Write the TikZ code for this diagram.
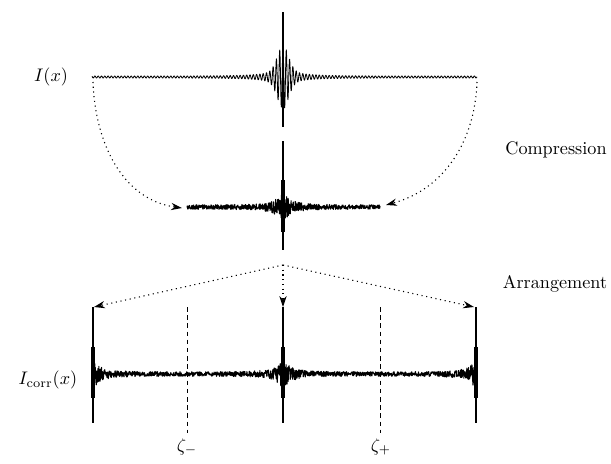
\documentclass[tikz,border=0pt]{standalone}
\usetikzlibrary{arrows.meta,calc}
\tikzset{
    signal/.style={line width=0.6pt, line join=round},
    spike/.style={line width=1.1pt},
    spikecore/.style={line width=2.2pt},
    flow/.style={-{Stealth[length=6pt,width=4pt]}, dotted, line width=0.6pt},
    guide/.style={dash pattern=on 2.5pt off 2pt, line width=0.45pt},
    label/.style={font=\normalsize}
}

\begin{document}
\begin{tikzpicture}[x=0.55pt, y=-0.55pt]
    \useasboundingbox (0,0) rectangle (611,464);
    \pgfmathsetseed{7}

    % Labels
    \node[label] (ix) at (51,77) {$I(x)$};
    \node[label] (icorr) at (48,380) {$I_{\mathrm{corr}}(x)$};
    \node[label] (compr) at (556,150) {Compression};
    \node[label] (arrange) at (555,284) {Arrangement};
    \node[label] (zminus) at (187,447) {$\zeta_-$};
    \node[label] (zplus) at (381,447) {$\zeta_+$};

    % Input signal
    \draw[signal, line width=0.45pt] plot[domain=92:477, samples=1600]
        (\x, {77 - (1.0 + 3*exp(max(-20,-abs(\x-283)/28)) + 7*exp(max(-20,-abs(\x-283)/10)) + 22*exp(max(-20,-((\x-283)/8)^2)))*cos(109.09*mod(\x+47,3.3))});
    \draw[spike] (283,12) -- (283,127);

    % Compressed signal
    \draw[signal] plot[domain=187:380, samples=700]
        (\x, {207 + rand*(2.2 + 3.5*exp(max(-20,-abs(\x-283)/20)) + 9*exp(max(-20,-abs(\x-283)/7)))});
    \draw[spike] (283,141) -- (283,250);
    \draw[spikecore] (283,180) -- (283,232);

    % Arranged signal
    \draw[signal] plot[domain=93:476, samples=1300]
        (\x, {374 + rand*(2.2 + 3.5*exp(max(-20,-abs(\x-283)/20)) + 9*exp(max(-20,-abs(\x-283)/7)) + 3.5*exp(max(-20,-(\x-93)/20)) + 10*exp(max(-20,-(\x-93)/6)) + 3.5*exp(max(-20,-(476-\x)/20)) + 10*exp(max(-20,-(476-\x)/6)))});
    \foreach \p in {93,283,476} {
        \draw[spike] (\p,307) -- (\p,423);
        \draw[spikecore] (\p,347) -- (\p,398);
    }

    % Guides
    \draw[guide] (187,307) -- (187,433);
    \draw[guide] (380,307) -- (380,433);

    % Coordinates for connectors
    \coordinate (topL) at (93,82);
    \coordinate (topR) at (477,82);
    \coordinate (midL) at (182,208);
    \coordinate (midR) at (386,205);
    \coordinate (split) at (283,265);
    \coordinate (botL) at (94,307);
    \coordinate (botC) at (283,307);
    \coordinate (botR) at (474,307);

    % Arrows
    \draw[flow] (topL) to[out=-88, in=172] (midL);
    \draw[flow] (topR) to[out=-92, in=15] (midR);
    \draw[flow] (split) -- (botL);
    \draw[flow] (split) -- (botC);
    \draw[flow] (split) -- (botR);
\end{tikzpicture}
\end{document}
